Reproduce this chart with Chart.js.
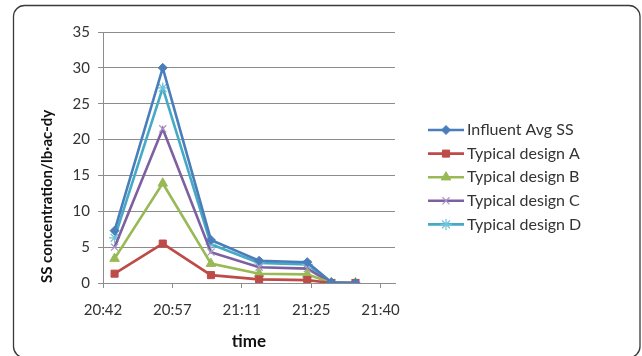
<!DOCTYPE html>
<html><head><meta charset="utf-8">
<script src="https://cdn.jsdelivr.net/npm/chart.js@4/dist/chart.umd.min.js"></script>
<style>html,body{margin:0;padding:0;background:#fff}canvas{display:block}</style>
</head><body>
<canvas id="c" width="642" height="356"></canvas>
<script>
// ---- data ----
const times = ['20:45', '20:55', '21:05', '21:15', '21:25', '21:30', '21:35'];
const seriesNames = ['Influent Avg SS', 'Typical design A', 'Typical design B', 'Typical design C', 'Typical design D'];
const influent = [7.3, 30.0, 6.0, 3.1, 2.9, 0.1, 0.0];
const designA  = [1.3, 5.5, 1.1, 0.5, 0.4, 0.0, 0.0];
const designB  = [3.4, 13.9, 2.7, 1.3, 1.2, 0.0, 0.0];
const designC  = [5.0, 21.5, 4.3, 2.2, 2.0, 0.0, 0.0];
const designD  = [6.3, 27.2, 5.4, 2.8, 2.6, 0.0, 0.0];
const xTickLabels = ['20:42', '20:57', '21:11', '21:25', '21:40'];
const yTickValues = [0, 5, 10, 15, 20, 25, 30, 35];
const axisStart = '20:42:36';
const axisEnd = '21:43:12';
const majorStepMin = 14.4;

function toMin(t) { const p = t.split(':').map(Number); return p[0] * 60 + p[1] + (p[2] || 0) / 60; }
const xs = times.map(toMin);
const xMin = toMin(axisStart), xMax = toMin(axisEnd);

const colors = ['#4A7EBB', '#BE4B48', '#98B954', '#7D60A0', '#46AAC5'];
const markerColors = ['#4A7EBB', '#BE4B48', '#98B954', '#A993C7', '#6FC3DA'];
const styles = ['rectRot', 'rect', 'triangle', 'crossRot', 'star'];
const radii = [4.5, 5, 5.5, 5, 5.5];
const allSeries = [influent, designA, designB, designC, designD];

const datasets = allSeries.map((vals, i) => ({
  label: seriesNames[i],
  data: vals.map((v, j) => ({ x: xs[j], y: v })),
  borderColor: colors[i],
  backgroundColor: markerColors[i],
  borderWidth: 2.6,
  pointStyle: styles[i],
  pointRadius: radii[i],
  pointBorderColor: markerColors[i],
  pointBackgroundColor: markerColors[i],
  pointBorderWidth: (i >= 3) ? 1.2 : 1,
  tension: 0,
  fill: false
}));

const FONT = 'Lato, "Open Sans", sans-serif';
const textColor = '#333333';

const frame = {
  id: 'frame',
  beforeDraw(chart) {
    const ctx = chart.ctx;
    ctx.save();
    ctx.fillStyle = '#fff';
    ctx.fillRect(0, 0, chart.width, chart.height);
    ctx.strokeStyle = '#3a3a3a';
    ctx.lineWidth = 1.3;
    ctx.beginPath();
    if (ctx.roundRect) ctx.roundRect(13.5, 5.5, 626.5, 352, 11); else ctx.rect(13.5, 5.5, 626.5, 352);
    ctx.stroke();
    ctx.restore();
  }
};

const legendPlugin = {
  id: 'sideLegend',
  afterDraw(chart) {
    const ctx = chart.ctx;
    ctx.save();
    chart.data.datasets.forEach((ds, i) => {
      const y = 130 + i * 23.6;
      ctx.strokeStyle = ds.borderColor;
      ctx.lineWidth = 2.6;
      ctx.beginPath(); ctx.moveTo(428, y); ctx.lineTo(464, y); ctx.stroke();
      ctx.fillStyle = ds.pointBackgroundColor; ctx.strokeStyle = ds.pointBorderColor;
      ctx.lineWidth = ds.pointBorderWidth;
      Chart.helpers.drawPoint(ctx, {
        pointStyle: ds.pointStyle, radius: ds.pointRadius, rotation: 0,
        borderWidth: ds.pointBorderWidth
      }, 446, y);
      ctx.fillStyle = textColor;
      ctx.font = '16px ' + FONT;
      ctx.textBaseline = 'middle';
      ctx.textAlign = 'left';
      ctx.fillText(ds.label, 467, y);
    });
    ctx.restore();
  }
};

new Chart(document.getElementById('c'), {
  type: 'line',
  data: { datasets },
  options: {
    responsive: false,
    animation: false,
    devicePixelRatio: 1,
    layout: { padding: { left: 0, right: 247, top: 32, bottom: 0 } },
    plugins: { legend: { display: false }, tooltip: { enabled: false } },
    scales: {
      x: {
        type: 'linear',
        min: xMin, max: xMax,
        afterBuildTicks(scale) { scale.ticks = xTickLabels.map((l, i) => ({ value: xMin + majorStepMin * i })); },
        afterFit(scale) { scale.height = 73; },
        ticks: {
          autoSkip: false, maxRotation: 0, color: textColor, padding: 13,
          font: { family: FONT, size: 15 },
          callback: (v, idx) => xTickLabels[idx]
        },
        grid: { drawOnChartArea: false, drawTicks: true, tickLength: 5, color: '#8c8c8c' },
        border: { color: '#8c8c8c', width: 1 },
        title: { display: true, text: 'time', color: '#111', font: { family: FONT, size: 17, weight: 'bold' }, padding: { top: 1 } }
      },
      y: {
        min: 0, max: 35,
        afterBuildTicks(scale) { scale.ticks = yTickValues.map(v => ({ value: v })); },
        afterFit(scale) { scale.width = 103; },
        ticks: { color: textColor, padding: 8, font: { family: FONT, size: 15 } },
        grid: { color: '#8c8c8c', tickLength: 5, lineWidth: 1 },
        border: { color: '#8c8c8c', width: 1 },
        title: { display: true, align: 'start', text: 'SS concentration/lb·ac-dy', color: '#111', font: { family: FONT, size: 15, weight: 'bold' }, padding: { top: 38, bottom: 0 } }
      }
    }
  },
  plugins: [frame, legendPlugin]
});
</script>
</body></html>
